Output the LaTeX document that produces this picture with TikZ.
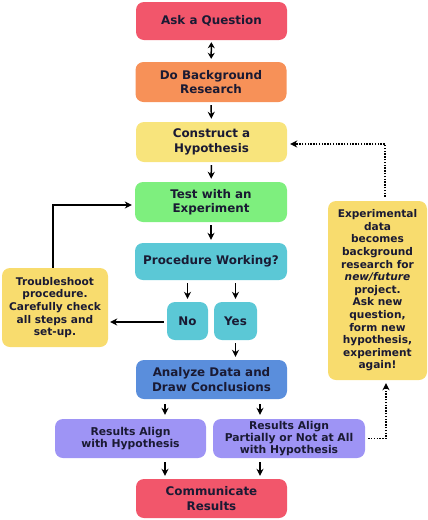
\documentclass[tikz,border=0pt]{standalone}
\usepackage{fontspec}
\setmainfont{DejaVu Sans}
\usetikzlibrary{arrows.meta}
\definecolor{cred}{HTML}{F2566B}
\definecolor{corange}{HTML}{F79158}
\definecolor{cyellow}{HTML}{F8E47C}
\definecolor{cgreen}{HTML}{7EEF7E}
\definecolor{ccyan}{HTML}{5BC8D6}
\definecolor{cyel2}{HTML}{F8DC6E}
\definecolor{cblue}{HTML}{5A8EDC}
\definecolor{cpurple}{HTML}{9E94F5}
\definecolor{ctext}{HTML}{1A1A33}
\tikzset{
  box/.style={rounded corners=8pt, align=center, inner sep=1pt, text=ctext,
    font=\fontsize{11.9}{14.3}\selectfont\bfseries},
  sbox/.style={box, font=\fontsize{10.6}{12.6}\selectfont\bfseries},
  pbox/.style={box, font=\fontsize{10.8}{11.8}\selectfont\bfseries},
  arr/.style={-{Stealth[length=7pt,width=7pt]}, line width=1.5pt, black},
  darr/.style={{Stealth[length=6pt,width=7pt]}-{Stealth[length=6pt,width=7pt]}, line width=1.5pt, black},
  dots/.style={-{Stealth[length=7pt,width=7pt]}, line width=1.6pt, black, dash pattern=on 1.4pt off 1.4pt}
}
\begin{document}
\begin{tikzpicture}[x=1pt,y=-1pt]
\useasboundingbox (0,0) rectangle (428,520);
\node[box, fill=cred, minimum width=151pt, minimum height=38pt] (ask) at (211.5,21) {Ask a Question};
\node[box, fill=corange, minimum width=151pt, minimum height=40pt] (bg) at (211,82) {Do Background\\Research};
\node[box, fill=cyellow, minimum width=151pt, minimum height=40pt] (hyp) at (211.5,142) {Construct a\\Hypothesis};
\node[box, fill=cgreen, minimum width=152pt, minimum height=40pt] (test) at (211,202) {Test with an\\Experiment};
\node[box, fill=ccyan, minimum width=152pt, minimum height=37pt] (proc) at (211,261.5) {Procedure Working?};
\node[box, fill=ccyan, minimum width=41pt, minimum height=38pt] (no) at (187.5,321) {No};
\node[box, fill=ccyan, minimum width=43pt, minimum height=38pt] (yes) at (235.5,321) {Yes};
\node[sbox, fill=cyel2, minimum width=106pt, minimum height=79pt] (trouble) at (55,307.5) {Troubleshoot\\procedure.\\Carefully check\\all steps and\\set-up.};
\node[box, fill=cblue, minimum width=151pt, minimum height=39pt] (ana) at (211.5,379.5) {Analyze Data and\\Draw Conclusions};
\node[pbox, fill=cpurple, minimum width=151pt, minimum height=39pt] (res1) at (130.5,438.5) {Results Align\\with Hypothesis};
\node[pbox, fill=cpurple, minimum width=152pt, minimum height=39pt] (res2) at (289,438.5) {Results Align\\Partially or Not at All\\with Hypothesis};
\node[box, fill=cred, minimum width=151pt, minimum height=39pt] (comm) at (211.5,498.5) {Communicate\\Results};
\node[sbox, fill=cyel2, minimum width=99pt, minimum height=179pt] (exp) at (377.5,290.5) {Experimental\\data\\becomes\\background\\research for\\\textit{new/future}\\project.\\Ask new\\question,\\form new\\hypothesis,\\experiment\\again!};
\coordinate (c1) at (165,0);
\coordinate (c2) at (260,0);
\coordinate (c3) at (386,0);
\draw[darr, shorten <=2pt, shorten >=3pt] (ask) -- (bg);
\draw[arr, shorten <=3pt, shorten >=3pt] (bg) -- (hyp);
\draw[arr, shorten <=3pt, shorten >=3pt] (hyp) -- (test);
\draw[arr, shorten <=3pt, shorten >=3pt] (test) -- (proc);
\draw[arr, shorten <=3pt, shorten >=3pt] (no.north |- proc.south) -- (no.north);
\draw[arr, shorten <=3pt, shorten >=3pt] (yes.north |- proc.south) -- (yes.north);
\draw[arr, shorten <=3pt, shorten >=2pt] ([yshift=-1pt]no.west) -- ([yshift=-1pt]no.west -| trouble.east);
\draw[arr, shorten >=3pt] ([xshift=-2pt]trouble.north) |- ([yshift=-3pt]test.west);
\draw[arr, shorten <=3pt, shorten >=3pt] (yes.south) -- (ana.north -| yes.south);
\draw[arr, shorten <=5pt, shorten >=4pt] (ana.south -| c1) -- (res1.north -| c1);
\draw[arr, shorten <=5pt, shorten >=4pt] (ana.south -| c2) -- (res2.north -| c2);
\draw[arr, shorten <=4pt, shorten >=3pt] (res1.south -| c1) -- (comm.north -| c1);
\draw[arr, shorten <=4pt, shorten >=3pt] (res2.south -| c2) -- (comm.north -| c2);
\draw[dots, shorten <=3pt, shorten >=3pt] (res2.east) -| (exp.south -| c3);
\draw[dots, shorten <=4pt, shorten >=3pt] ([xshift=-1pt]exp.north -| c3) |- ([yshift=-2pt]hyp.east);
\end{tikzpicture}
\end{document}
